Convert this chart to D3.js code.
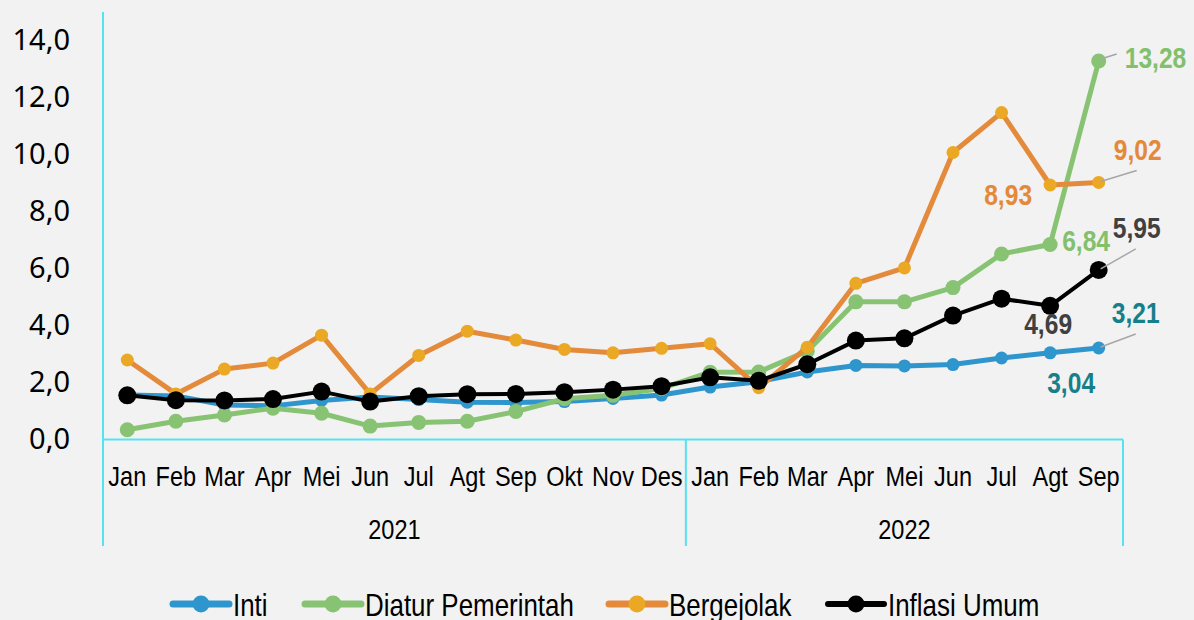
<!DOCTYPE html>
<html>
<head>
<meta charset="utf-8">
<script src="https://cdn.jsdelivr.net/npm/d3@7"></script>
<style>
	html, body { margin: 0; padding: 0; background: #f2f2f2; }
	.c-svg { width: 1194px; height: 620px; }
	.narrow { font-family: "Liberation Sans", Arial, sans-serif; }
</style>
</head>
<body>
<div class="c-svg"></div>
<script>
//DATA
//-------------------------------------------------------------------------

const months = ["Jan","Feb","Mar","Apr","Mei","Jun","Jul","Agt","Sep","Okt","Nov","Des",
	"Jan","Feb","Mar","Apr","Mei","Jun","Jul","Agt","Sep"];
const years = ["2021", "2022"];
const yearLength = [12, 9];

const inti = [1.56,1.53,1.21,1.18,1.37,1.49,1.40,1.31,1.30,1.33,1.44,1.56,
	1.84,2.03,2.37,2.60,2.58,2.63,2.86,3.04,3.21];
const diatur = [0.34,0.64,0.86,1.10,0.92,0.47,0.60,0.64,0.98,1.43,1.55,1.79,
	2.36,2.37,3.10,4.83,4.83,5.33,6.51,6.84,13.28];
const bergejolak = [2.79,1.60,2.47,2.68,3.66,1.60,2.95,3.80,3.49,3.16,3.04,3.20,
	3.36,1.82,3.24,5.48,6.02,10.07,11.47,8.93,9.02];
const umum = [1.55,1.38,1.37,1.42,1.68,1.33,1.52,1.59,1.60,1.66,1.75,1.87,
	2.18,2.06,2.64,3.47,3.55,4.35,4.94,4.69,5.95];

const yTicks = [0, 2, 4, 6, 8, 10, 12, 14];

const series = [
	{ name: "Inti", values: inti, line: "#2e96cd", dot: "#2e96cd", width: 5, r: 6.5, label: "#177f8a" },
	{ name: "Diatur Pemerintah", values: diatur, line: "#88c373", dot: "#88c373", width: 5, r: 7.5, label: "#82c06c" },
	{ name: "Bergejolak", values: bergejolak, line: "#e48a3b", dot: "#eba824", width: 5, r: 6.5, label: "#e4893a" },
	{ name: "Inflasi Umum", values: umum, line: "#000000", dot: "#000000", width: 4, r: 9, label: "#404040" }
];

//callouts: series index, point index, label offset from the point, leader line or not
const callouts = [
	{ s: 1, i: 20, dx: 26, dy: 7, anchor: "start", leader: [2, -2, 18, -7] },
	{ s: 2, i: 20, dx: 39, dy: -22, anchor: "middle", leader: [2, -1, 38, -12] },
	{ s: 2, i: 19, dx: -42, dy: 20, anchor: "middle", leader: null },
	{ s: 1, i: 19, dx: 12, dy: 6, anchor: "start", leader: null },
	{ s: 3, i: 20, dx: 38, dy: -32, anchor: "middle", leader: [2, -1, 37, -21] },
	{ s: 3, i: 19, dx: -2, dy: 28, anchor: "middle", leader: null },
	{ s: 0, i: 20, dx: 37, dy: -25, anchor: "middle", leader: [2, -1, 37, -14] },
	{ s: 0, i: 19, dx: 21, dy: 40, anchor: "middle", leader: null }
];

//SVG
//-------------------------------------------------------------------------

const opts = {
	width: 1194,
	height: 620,
	left: 103,
	right: 1123,
	top: 12,
	bottom: 439.5
};

const axisColor = "#55e2f2";

//squeeze text horizontally to look like a narrow face
function narrow(sel, k) {
	sel.each(function() {
		const w = this.getComputedTextLength();
		d3.select(this)
			.attr("textLength", w * k)
			.attr("lengthAdjust", "spacingAndGlyphs");
	});
}

const svg = d3.select(".c-svg")
	.append("svg")
	.attr("width", opts.width)
	.attr("height", opts.height);

svg.append("rect")
	.attr("width", opts.width)
	.attr("height", opts.height)
	.attr("fill", "#f2f2f2");

const keys = months.map((m, i) => i);

const x = d3.scaleBand()
	.domain(keys)
	.range([opts.left, opts.right]);

const y = d3.scaleLinear()
	.domain([0, 15])
	.range([opts.bottom, opts.top]);

const cx = (i) => x(i) + x.bandwidth() / 2;

//AXIS
//-------------------------------------------------------------------------

const yAxis = d3.axisLeft(y)
	.tickValues(yTicks)
	.tickSize(0)
	.tickPadding(33)
	.tickFormat((d) => d.toFixed(1).replace(".", ","));

svg.append("g")
	.attr("transform", `translate(${opts.left} 0)`)
	.call(yAxis)
	.call((g) => g.select(".domain").remove())
	.selectAll("text")
	.attr("font-family", "'Noto Sans', 'Open Sans', sans-serif")
	.attr("font-size", 29)
	.attr("fill", "#000");

const xAxis = d3.axisBottom(x)
	.tickSize(0)
	.tickPadding(0)
	.tickFormat((i) => months[i]);

const xg = svg.append("g")
	.attr("transform", `translate(0 ${opts.bottom})`)
	.call(xAxis);

xg.select(".domain").remove();
xg.selectAll("text")
	.attr("class", "narrow")
	.attr("font-family", null)
	.attr("y", 46)
	.attr("dy", 0)
	.attr("font-size", 28)
	.attr("fill", "#000")
	.call(narrow, 0.84);

//axis lines
svg.append("line")
	.attr("x1", opts.left).attr("x2", opts.left)
	.attr("y1", opts.top).attr("y2", opts.bottom)
	.attr("stroke", axisColor).attr("stroke-width", 2);

svg.append("line")
	.attr("x1", opts.left).attr("x2", opts.right)
	.attr("y1", opts.bottom).attr("y2", opts.bottom)
	.attr("stroke", axisColor).attr("stroke-width", 2);

//year groups
let start = 0;
const bounds = [0];
years.forEach((yr, k) => {
	const end = start + yearLength[k];
	const x0 = x(start);
	const x1 = x(end - 1) + x.bandwidth();
	bounds.push(end);
	svg.append("text")
		.attr("class", "narrow")
		.attr("x", (x0 + x1) / 2)
		.attr("y", 539)
		.attr("text-anchor", "middle")
		.attr("font-size", 28)
		.attr("fill", "#000")
		.text(yr)
		.call(narrow, 0.84);
	start = end;
});

bounds.forEach((b) => {
	const bx = b < months.length ? x(b) : opts.right;
	svg.append("line")
		.attr("x1", bx).attr("x2", bx)
		.attr("y1", opts.bottom).attr("y2", 546)
		.attr("stroke", axisColor).attr("stroke-width", 2);
});

//LINES
//-------------------------------------------------------------------------

const line = d3.line()
	.x((d, i) => cx(i))
	.y((d) => y(d));

series.forEach((s) => {
	const g = svg.append("g");
	g.append("path")
		.datum(s.values)
		.attr("d", line)
		.attr("fill", "none")
		.attr("stroke", s.line)
		.attr("stroke-width", s.width)
		.attr("stroke-linejoin", "round");
	g.selectAll("circle")
		.data(s.values)
		.join("circle")
		.attr("cx", (d, i) => cx(i))
		.attr("cy", (d) => y(d))
		.attr("r", s.r)
		.attr("fill", s.dot);
});

//CALLOUTS
//-------------------------------------------------------------------------

callouts.forEach((c) => {
	const s = series[c.s];
	const px = cx(c.i);
	const py = y(s.values[c.i]);
	if (c.leader) {
		svg.append("line")
			.attr("x1", px + c.leader[0]).attr("y1", py + c.leader[1])
			.attr("x2", px + c.leader[2]).attr("y2", py + c.leader[3])
			.attr("stroke", "#a6a6a6").attr("stroke-width", 1.5);
	}
	svg.append("text")
		.attr("class", "narrow")
		.attr("x", px + c.dx)
		.attr("y", py + c.dy)
		.attr("text-anchor", c.anchor)
		.attr("font-size", 30)
		.attr("font-weight", "bold")
		.attr("fill", s.label)
		.text(s.values[c.i].toFixed(2).replace(".", ","))
		.call(narrow, 0.82);
});

//LEGEND
//-------------------------------------------------------------------------

const legendX = [173, 305, 609, 828];
const legendY = 604;

series.forEach((s, k) => {
	const g = svg.append("g")
		.attr("transform", `translate(${legendX[k]} ${legendY})`);
	g.append("line")
		.attr("x1", 0).attr("x2", 56)
		.attr("stroke", s.line)
		.attr("stroke-width", s.width + 2)
		.attr("stroke-linecap", "round");
	g.append("circle")
		.attr("cx", 28)
		.attr("r", 8.5)
		.attr("fill", s.dot);
	g.append("text")
		.attr("class", "narrow")
		.attr("x", 60)
		.attr("y", 12)
		.attr("font-size", 32)
		.attr("fill", "#000")
		.text(s.name)
		.call(narrow, 0.81);
});
</script>
</body>
</html>
